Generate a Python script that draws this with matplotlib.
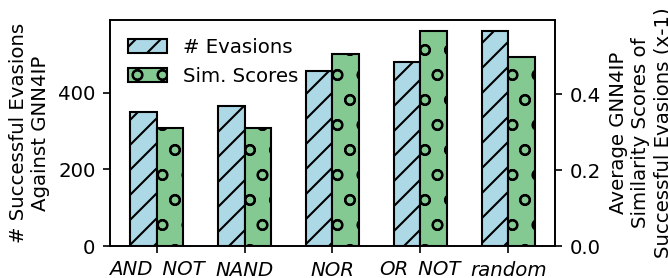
import numpy as np
import matplotlib
matplotlib.use("Agg")
import matplotlib.pyplot as plt

categories = ["AND_NOT", "NAND", "NOR", "OR_NOT", "random"]
evasions = [349, 366, 456, 480, 561]
sim_scores = [0.312, 0.311, 0.506, 0.568, 0.499]

plt.rcParams["font.size"] = 9.5
plt.rcParams["hatch.linewidth"] = 1.0

fig = plt.figure(figsize=(668 / 150, 278 / 150), dpi=150)
ax = fig.add_axes([0.1647, 0.115, 0.666, 0.813])
ax2 = ax.twinx()

x = np.arange(len(categories))
w = 0.3

b1 = ax.bar(x - w / 2, evasions, w, color="#add8e6", edgecolor="black",
            hatch="//", label="# Evasions")
b2 = ax2.bar(x + w / 2, sim_scores, w, color="#84c991", edgecolor="black",
             hatch="o", label="Sim. Scores")

ax.set_ylim(0, max(evasions) * 1.05)
ax2.set_ylim(0, max(sim_scores) * 1.05)
ax.set_yticks([0, 200, 400])
ax2.set_yticks([0.0, 0.2, 0.4])

ax.set_xticks(x)
ax.set_xticklabels(categories, style="italic")

ax.set_ylabel("# Successful Evasions\nAgainst GNN4IP")
ax2.set_ylabel("Average GNN4IP\nSimilarity Scores of\nSuccessful Evasions (x-1)")

ax.legend([b1, b2], ["# Evasions", "Sim. Scores"], loc="upper left", frameon=False)

fig.savefig("out.png", dpi=150)
